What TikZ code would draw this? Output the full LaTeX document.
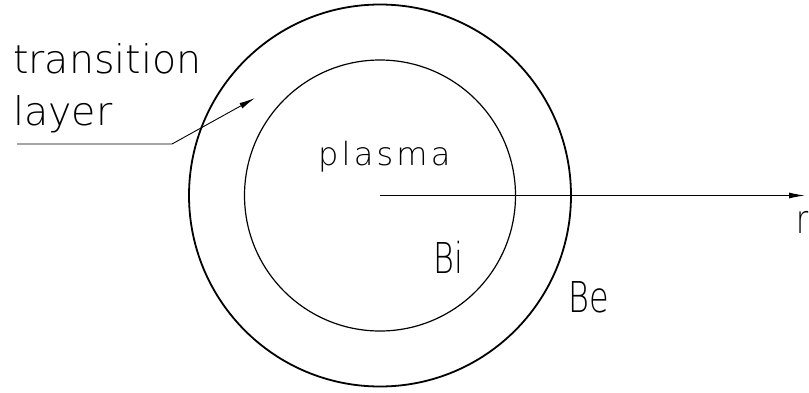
\documentclass[tikz,border=0pt]{standalone}
\usepackage{fontspec}
\newfontfamily\cad{DejaVu Sans}[UprightFont={* ExtraLight}]
\newfontfamily\cadcap{DejaVu Sans}[UprightFont={* ExtraLight},FakeStretch=0.75]
\newfontfamily\cadwide{DejaVu Sans}[UprightFont={* ExtraLight},LetterSpace=10]
\usetikzlibrary{arrows.meta}
\begin{document}
\begin{tikzpicture}[x=1pt,y=-1pt,
  lbl/.style={anchor=base west,inner sep=0pt,font=\cad\fontsize{39.5}{40}\selectfont},
  small/.style={anchor=base west,inner sep=0pt,font=\cadwide\fontsize{32}{33}\selectfont},
  caps/.style={anchor=base west,inner sep=0pt,font=\cadcap\fontsize{42.5}{43}\selectfont},
  tip/.style={-{Latex[length=16pt,width=6pt]}}]
\useasboundingbox (0,0) rectangle (809,392);
\coordinate (c) at (380,195.5);
\draw[line width=1.8pt] (c) circle[radius=191pt];
\draw[line width=1.2pt] (c) circle[radius=135.5pt];
\coordinate (ax) at (805,195.5);
\draw[line width=1pt,tip] (c) -- (ax);
\coordinate (l0) at (17,144);
\coordinate (l1) at (172,144);
\coordinate (lt) at (255,98);
\draw[line width=0.9pt,tip] (l0) -- (l1) -- (lt);
\node[lbl] (t1) at (13,73) {transition};
\node[lbl] (t2) at (13,125) {layer};
\node[small] (pl) at (318,165) {plasma};
\node[caps] (bi) at (433,273) {Bi};
\node[caps] (be) at (568,312) {Be};
\node[lbl,anchor=base east,font=\cadcap\fontsize{39.5}{40}\selectfont] (r) at (809,233) {r};
\end{tikzpicture}
\end{document}
